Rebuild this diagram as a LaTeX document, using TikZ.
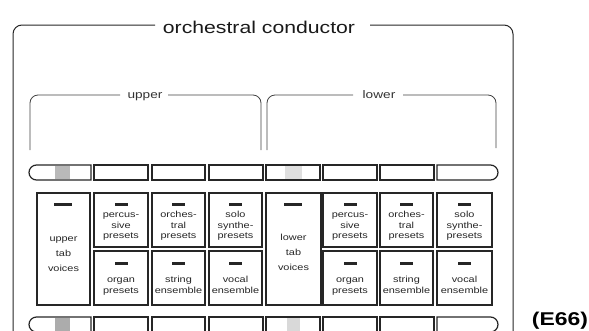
\documentclass[tikz,border=0pt]{standalone}
\usepackage{fontspec}
\setmainfont{Liberation Sans}
\usetikzlibrary{shapes.misc}
\newcommand{\sx}[1]{\scalebox{1.24}[1]{#1}}
\newcommand{\ptxt}[1]{\sx{\begin{tabular}{@{}c@{}}#1\end{tabular}}}
\tikzset{
  panel/.style={draw=black!85, line width=1.2pt, inner sep=0pt, minimum height=54pt},
  btn/.style={draw=black!85, line width=1.2pt, inner sep=0pt, minimum height=15pt},
  lbtn/.style={btn, rounded rectangle, rounded rectangle east arc=none},
  rbtn/.style={btn, rounded rectangle, rounded rectangle west arc=none},
  frameline/.style={draw=black!85, line width=1pt, rounded corners=9pt},
  bracket/.style={draw=black!75, line width=0.8pt, rounded corners=8pt},
  ptext/.style={inner sep=0pt, text=black!85, font=\fontsize{8.8}{10.5}\selectfont},
  ttext/.style={inner sep=0pt, text=black!85, font=\fontsize{8.8}{15}\selectfont},
  dashbar/.style={fill=black!85}
}
\begin{document}
\begin{tikzpicture}[x=1pt,y=-1pt]
\useasboundingbox (0,0) rectangle (589,330);
\clip (0,0) rectangle (589,330);
% outer frame
\draw[frameline] (155,25) -- (13,25) -- (13,345);
\draw[frameline] (370,25) -- (513,25) -- (513,345);
\node[anchor=base, inner sep=0pt, font=\fontsize{17.1}{20}\selectfont, text=black!90] (title) at (259,33) {\sx{orchestral conductor}};
% brackets
\draw[bracket] (120,95) -- (30,95) -- (30,150);
\draw[bracket] (168,95) -- (261,95) -- (261,150);
\draw[bracket] (353,95) -- (267,95) -- (267,150);
\draw[bracket] (403,95) -- (496,95) -- (496,148);
\node[anchor=base, inner sep=0pt, font=\fontsize{11}{13}\selectfont, text=black!80] (upperlbl) at (145,98) {\sx{upper}};
\node[anchor=base, inner sep=0pt, font=\fontsize{11}{13}\selectfont, text=black!80] (lowerlbl) at (379,98) {\sx{lower}};
% patches
\fill[gray!55] (55,166) rectangle (70,179);
\fill[gray!25] (285,166) rectangle (302,179);
\fill[gray!65] (55,318) rectangle (70,331);
\fill[gray!30] (287,318) rectangle (300,331);
% top buttons
\node[lbtn, minimum width=62pt] (t1) at (60,172.5) {};
\node[btn, minimum width=54pt] (t2) at (121,172.5) {};
\node[btn, minimum width=53pt] (t3) at (178.5,172.5) {};
\node[btn, minimum width=54pt] (t4) at (236,172.5) {};
\node[btn, minimum width=54pt] (t5) at (293,172.5) {};
\node[btn, minimum width=54pt] (t6) at (350,172.5) {};
\node[btn, minimum width=54pt] (t7) at (407,172.5) {};
\node[rbtn, minimum width=61pt] (t8) at (467.5,172.5) {};
% bottom buttons
\node[lbtn, minimum width=62pt] (u1) at (60,324.5) {};
\node[btn, minimum width=54pt] (u2) at (121,324.5) {};
\node[btn, minimum width=53pt] (u3) at (178.5,324.5) {};
\node[btn, minimum width=54pt] (u4) at (236,324.5) {};
\node[btn, minimum width=54pt] (u5) at (293,324.5) {};
\node[btn, minimum width=54pt] (u6) at (350,324.5) {};
\node[btn, minimum width=54pt] (u7) at (407,324.5) {};
\node[rbtn, minimum width=61pt] (u8) at (467.5,324.5) {};
% panels
\node[panel, minimum width=53pt, minimum height=112pt] (p1) at (63.5,249) {};
\node[panel, minimum width=54pt] (p2u) at (121,220) {};
\node[panel, minimum width=53pt] (p3u) at (178.5,220) {};
\node[panel, minimum width=53pt] (p4u) at (235.5,220) {};
\node[panel, minimum width=54pt] (p2l) at (121,278) {};
\node[panel, minimum width=53pt] (p3l) at (178.5,278) {};
\node[panel, minimum width=53pt] (p4l) at (235.5,278) {};
\node[panel, minimum width=55pt, minimum height=112pt] (p5) at (293.5,249) {};
\node[panel, minimum width=54pt] (p6u) at (350,220) {};
\node[panel, minimum width=53pt] (p7u) at (406.5,220) {};
\node[panel, minimum width=55pt] (p8u) at (464.5,220) {};
\node[panel, minimum width=54pt] (p6l) at (350,278) {};
\node[panel, minimum width=53pt] (p7l) at (406.5,278) {};
\node[panel, minimum width=55pt] (p8l) at (464.5,278) {};
% dash bars
\fill[dashbar] (54,202.5) rectangle (72,205.5);
\fill[dashbar] (284,202.5) rectangle (302,205.5);
\foreach \c in {121,178.5,235.5,350,406.5,464.5}{
  \fill[dashbar] (\c-6.5,202.5) rectangle (\c+6.5,205.5);
  \fill[dashbar] (\c-6.5,262) rectangle (\c+6.5,265);
}
% texts
\node[ttext] (x1) at (63.5,253) {\sx{\begin{tabular}{@{}c@{}}upper\\tab\\voices\end{tabular}}};
\node[ttext] (x5) at (293.5,252) {\sx{\begin{tabular}{@{}c@{}}lower\\tab\\voices\end{tabular}}};
\node[ptext] (x2u) at (121,226) {\ptxt{percus-\\sive\\presets}};
\node[ptext] (x3u) at (178.5,226) {\ptxt{orches-\\tral\\presets}};
\node[ptext] (x4u) at (235.5,226) {\ptxt{solo\\synthe-\\presets}};
\node[ptext] (x6u) at (350,226) {\ptxt{percus-\\sive\\presets}};
\node[ptext] (x7u) at (406.5,226) {\ptxt{orches-\\tral\\presets}};
\node[ptext] (x8u) at (464.5,226) {\ptxt{solo\\synthe-\\presets}};
\node[ptext] (x2l) at (121,286) {\ptxt{organ\\presets}};
\node[ptext] (x3l) at (178.5,286) {\ptxt{string\\ensemble}};
\node[ptext] (x4l) at (235.5,286) {\ptxt{vocal\\ensemble}};
\node[ptext] (x6l) at (350,286) {\ptxt{organ\\presets}};
\node[ptext] (x7l) at (406.5,286) {\ptxt{string\\ensemble}};
\node[ptext] (x8l) at (464.5,286) {\ptxt{vocal\\ensemble}};
% label
\node[anchor=base, inner sep=0pt, font=\bfseries\fontsize{18.5}{20}\selectfont] (e66) at (560,325) {\sx{(E66)}};
\end{tikzpicture}
\end{document}
